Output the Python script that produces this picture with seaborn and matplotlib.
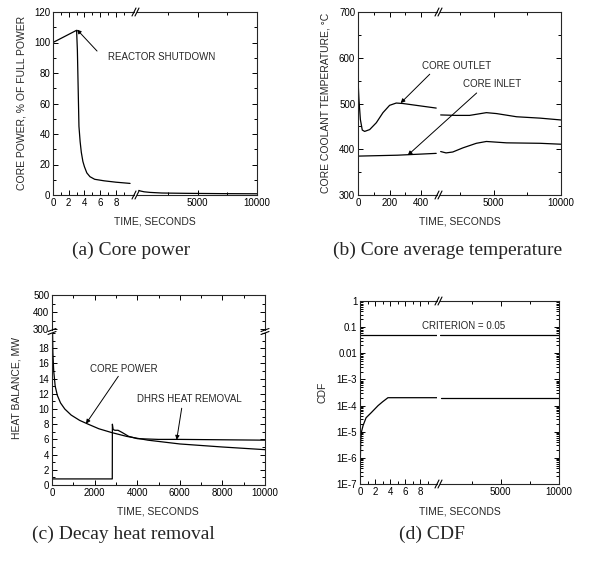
import numpy as np
import pandas as pd
import matplotlib
matplotlib.use('Agg')
import matplotlib.pyplot as plt
import seaborn as sns
from matplotlib.lines import Line2D
from matplotlib.ticker import MultipleLocator, FixedLocator, LogLocator, FuncFormatter, NullFormatter

# (a) core power, % of full power
power_t_early = [0, 3.0, 3.1, 3.2, 3.3, 3.45, 3.6, 3.8, 4.0, 4.3, 4.7, 5.3, 6.5, 8.0, 9.8]
power_early = [100, 108, 95, 70, 45, 35, 28, 22, 18.5, 14.5, 12, 10.3, 9.3, 8.4, 7.6]
power_t_late = [50, 200, 500, 1000, 2000, 4000, 7000, 10000]
power_late = [3.0, 2.6, 2.1, 1.7, 1.3, 1.1, 0.9, 0.8]

# (b) core coolant temperatures, C
temp_t_early = [0, 6, 15, 27, 42, 74, 116, 158, 200, 242, 284, 368, 495]
outlet_early = [552, 509, 465, 442, 439, 443, 458, 480, 496, 501, 500, 496, 490]
inlet_t_early = [0, 250, 495]
inlet_early = [385, 387, 391]
temp_t_late = [1050, 2200, 3200, 4450, 5200, 6700, 8450, 10000]
outlet_late = [475, 474, 474, 480, 478, 471, 468, 464]
inlet_t_late = [1050, 1450, 1950, 2700, 3700, 4450, 5950, 8450, 10000]
inlet_late = [395, 392, 394, 403, 413, 417, 414, 413, 411]

# (c) heat balance, MW
core_t = [0, 15, 40, 80, 150, 250, 400, 600, 900, 1300, 1700, 2200, 2800, 3500, 4500, 6000, 8000, 10000]
core_mw = [320, 22, 17.5, 15, 13, 11.8, 10.8, 10, 9.2, 8.5, 8.0, 7.4, 6.9, 6.4, 5.9, 5.4, 5.0, 4.65]
dhrs_t = [0, 2830, 2835, 2870, 2950, 3100, 3300, 3600, 4000, 5000, 6000, 8000, 10000]
dhrs_mw = [0.8, 0.8, 8.0, 7.3, 7.2, 7.2, 6.9, 6.4, 6.1, 6.0, 6.0, 5.95, 5.9]

# (d) CDF
cdf_t_early = [0.05, 0.1, 0.2, 0.4, 0.8, 1.5, 2.4, 3.0, 3.7, 10.5]
cdf_early = [1.1e-6, 5e-6, 1e-5, 1.7e-5, 3.4e-5, 5.4e-5, 1e-4, 1.4e-4, 2e-4, 2e-4]
cdf_t_late = [-150, 10000]
cdf_late = [2e-4, 2e-4]
criterion = 0.05

W, H = 592, 563
SANS = ['Liberation Sans', 'DejaVu Sans']
SERIF = ['Liberation Serif', 'DejaVu Serif']

sns.set_style('ticks')
plt.rcParams['font.family'] = SANS
plt.rcParams['axes.linewidth'] = 0.8

fig = plt.figure(figsize=(W / 100, H / 100), dpi=100)


def box(x0, y0, x1, y1):
    return [x0 / W, 1 - y1 / H, (x1 - x0) / W, (y1 - y0) / H]


def new_axes(x0, y0, x1, y1):
    ax = fig.add_axes(box(x0, y0, x1, y1))
    ax.patch.set_visible(False)  # let annotations of the neighbour segment show through
    return ax


def style(ax, left=True, right=True, top=True, bottom=True):
    ax.tick_params(which='both', direction='in', top=top, bottom=bottom,
                   left=left, right=right, labelsize=7, pad=2, width=0.7,
                   colors='k')
    ax.tick_params(which='major', length=3.5)
    ax.tick_params(which='minor', length=2)
    ax.spines['left'].set_visible(left)
    ax.spines['right'].set_visible(right)
    ax.spines['top'].set_visible(top)
    ax.spines['bottom'].set_visible(bottom)
    if not left:
        ax.tick_params(labelleft=False)
    ax.set_xlabel('')
    ax.set_ylabel('')


def slash(x, y, dx=2, dy=4):
    fig.add_artist(Line2D([(x - dx) / W, (x + dx) / W], [1 - (y + dy) / H, 1 - (y - dy) / H],
                          transform=fig.transFigure, color='k', lw=0.8))


def line(ax, t, v):
    sns.lineplot(x=t, y=v, ax=ax, color='k', lw=0.9, estimator=None, sort=False)


arrow = dict(arrowstyle='-|>', color='k', lw=0.7, mutation_scale=6, shrinkA=0, shrinkB=0)
txt = dict(fontsize=7)

# ---------- (a) ----------
a1 = new_axes(53, 12, 134, 195)
a2 = new_axes(137, 12, 257, 195)
line(a1, power_t_early, power_early)
line(a2, power_t_late, power_late)
for ax in (a1, a2):
    ax.set_ylim(0, 120)
    ax.yaxis.set_major_locator(MultipleLocator(20))
    ax.yaxis.set_minor_locator(MultipleLocator(10))
a1.set_xlim(0, 10.3)
a1.xaxis.set_major_locator(FixedLocator([0, 2, 4, 6, 8]))
a1.xaxis.set_minor_locator(FixedLocator([1, 3, 5, 7, 9]))
a2.set_xlim(-100, 10000)
a2.xaxis.set_major_locator(FixedLocator([5000, 10000]))
a2.xaxis.set_minor_locator(FixedLocator([2500, 7500]))
style(a1, right=False)
style(a2, left=False)
a1.annotate('', xy=(3.05, 108.5), xytext=(5.6, 94.4), arrowprops=arrow)
a1.text(7.0, 90.5, 'REACTOR SHUTDOWN', va='center', ha='left', **txt)
for y in (12, 195):
    slash(134, y)
    slash(137, y)
fig.text(22 / W, 1 - 103 / H, 'CORE POWER, % OF FULL POWER', rotation=90,
         ha='center', va='center', fontsize=7.5)
fig.text(155 / W, 1 - 222 / H, 'TIME, SECONDS', ha='center', va='center', fontsize=7.5)

# ---------- (b) ----------
b1 = new_axes(358, 12, 437, 195)
b2 = new_axes(440, 12, 561, 195)
line(b1, temp_t_early, outlet_early)
line(b1, inlet_t_early, inlet_early)
line(b2, temp_t_late, outlet_late)
line(b2, inlet_t_late, inlet_late)
for ax in (b1, b2):
    ax.set_ylim(300, 700)
    ax.yaxis.set_major_locator(MultipleLocator(100))
    ax.yaxis.set_minor_locator(MultipleLocator(50))
b1.set_xlim(0, 500)
b1.xaxis.set_major_locator(FixedLocator([0, 200, 400]))
b1.xaxis.set_minor_locator(FixedLocator([100, 300]))
b2.set_xlim(1000, 10000)
b2.xaxis.set_major_locator(FixedLocator([5000, 10000]))
b2.xaxis.set_minor_locator(FixedLocator([2500, 7500]))
style(b1, right=False)
style(b2, left=False)
b1.annotate('', xy=(270, 501), xytext=(454, 564), arrowprops=arrow)
b1.text(403, 582, 'CORE OUTLET', va='center', ha='left', **txt)
b1.annotate('', xy=(315, 387), xytext=(751, 523), arrowprops=arrow)
b1.text(663, 543, 'CORE INLET', va='center', ha='left', **txt)
for y in (12, 195):
    slash(437, y)
    slash(440, y)
fig.text(326 / W, 1 - 103 / H, 'CORE COOLANT TEMPERATURE, \u00b0C', rotation=90,
         ha='center', va='center', fontsize=7.5)
fig.text(460 / W, 1 - 222 / H, 'TIME, SECONDS', ha='center', va='center', fontsize=7.5)

# ---------- (c) ----------
c1 = new_axes(52, 295, 265, 330)
c2 = new_axes(52, 333, 265, 485)
for ax in (c1, c2):
    line(ax, core_t, core_mw)
    line(ax, dhrs_t, dhrs_mw)
    ax.set_xlim(0, 10000)
    ax.xaxis.set_major_locator(MultipleLocator(2000))
    ax.xaxis.set_minor_locator(MultipleLocator(1000))
c1.set_ylim(296, 500)
c1.yaxis.set_major_locator(FixedLocator([300, 400, 500]))
c1.yaxis.set_minor_locator(FixedLocator([350, 450]))
c2.set_ylim(0, 20)
c2.yaxis.set_major_locator(FixedLocator(list(range(0, 20, 2))))
c2.yaxis.set_minor_locator(MultipleLocator(1))
style(c1, bottom=False)
c1.tick_params(labelbottom=False)
style(c2, top=False)
c2.annotate('', xy=(1596, 8.07), xytext=(3113, 14.3), arrowprops=arrow)
c2.text(1784, 15.2, 'CORE POWER', va='center', ha='left', **txt)
c2.annotate('', xy=(5854, 5.95), xytext=(6089, 10.1), arrowprops=arrow)
c2.text(3976, 11.3, 'DHRS HEAT REMOVAL', va='center', ha='left', **txt)
for x in (52, 265):
    slash(x, 330, dx=4, dy=1.5)
    slash(x, 333, dx=4, dy=1.5)
fig.text(17 / W, 1 - 388 / H, 'HEAT BALANCE, MW', rotation=90,
         ha='center', va='center', fontsize=7.5)
fig.text(158 / W, 1 - 511 / H, 'TIME, SECONDS', ha='center', va='center', fontsize=7.5)

# ---------- (d) ----------
d1 = new_axes(360, 301, 437, 484)
d2 = new_axes(440, 301, 559, 484)
line(d1, cdf_t_early, cdf_early)
line(d2, cdf_t_late, cdf_late)
labels = {0: '1', -1: '0.1', -2: '0.01'}
for ax in (d1, d2):
    ax.axhline(criterion, color='k', lw=0.9)
    ax.set_yscale('log')
    ax.set_ylim(1e-7, 1)
    ax.yaxis.set_major_locator(LogLocator(base=10, numticks=10))
    ax.yaxis.set_minor_locator(LogLocator(base=10, subs=np.arange(2, 10), numticks=10))
    ax.yaxis.set_minor_formatter(NullFormatter())
    ax.yaxis.set_major_formatter(FuncFormatter(
        lambda v, p: labels.get(int(round(np.log10(v))), '1E%d' % int(round(np.log10(v))))))
d1.set_xlim(0, 10.2)
d1.xaxis.set_major_locator(FixedLocator([0, 2, 4, 6, 8]))
d1.xaxis.set_minor_locator(FixedLocator([1, 3, 5, 7, 9]))
d2.set_xlim(-200, 10000)
d2.xaxis.set_major_locator(FixedLocator([5000, 10000]))
d2.xaxis.set_minor_locator(FixedLocator([2500, 7500]))
style(d1, right=False)
style(d2, left=False)
d1.text(8.2, 0.11, 'CRITERION = 0.05', va='center', ha='left', **txt)
for y in (301, 484):
    slash(437, y)
    slash(440, y)
fig.text(322 / W, 1 - 392 / H, 'CDF', rotation=90, ha='center', va='center', fontsize=7.5)
fig.text(460 / W, 1 - 511 / H, 'TIME, SECONDS', ha='center', va='center', fontsize=7.5)

# captions
for x, y, s in [(131, 250, '(a) Core power'), (448, 250, '(b) Core average temperature'),
                (123, 534, '(c) Decay heat removal'), (432, 534, '(d) CDF')]:
    fig.text(x / W, 1 - y / H, s, ha='center', va='center', fontsize=14, family=SERIF)

fig.savefig('out.png', dpi=100)
